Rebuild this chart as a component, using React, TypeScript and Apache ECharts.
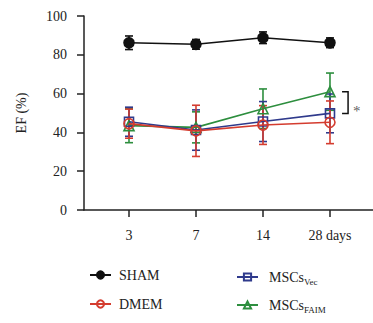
import { useEffect, useRef } from 'react';
import * as echarts from 'echarts';

const days = ['3', '7', '14', '28 days'];
const dayIndex = [0, 1, 2, 3];
const yTicks = [0, 20, 40, 60, 80, 100];
const shamMean = [86.2, 85.4, 88.8, 86.2];
const shamErr = [3.5, 2.5, 3, 2.5];
const dmemMean = [44.5, 40.8, 43.8, 45.2];
const dmemErr = [7.5, 13.2, 10, 11];
const vecMean = [45.5, 41.2, 45.6, 49.8];
const vecErr = [7.5, 10.4, 10.3, 10];
const faimMean = [43.5, 42.6, 52.2, 61];
const faimErr = [8.8, 8, 10.2, 9.6];
const sigLabel = '*';

const FONT = 'Liberation Serif';
const RED = '#d43c2f';
const BLUE = '#2f3a8c';
const GREEN = '#2d8e3e';
const BLACK = '#111111';

function errSeries(name: string, mean: number[], err: number[], color: string, z: number) {
  return {
    type: 'custom',
    name: name + '-err',
    z,
    silent: true,
    itemStyle: { color },
    data: mean.map((m, i) => [dayIndex[i], m, m - err[i], m + err[i]]),
    renderItem: (params: any, api: any) => {
      const x = api.value(0);
      const lo = api.coord([x, api.value(2)]);
      const hi = api.coord([x, api.value(3)]);
      const w = 4;
      const st = { stroke: color, lineWidth: 1.6 };
      return {
        type: 'group',
        children: [
          { type: 'line', shape: { x1: lo[0], y1: lo[1], x2: hi[0], y2: hi[1] }, style: st },
          { type: 'line', shape: { x1: lo[0] - w, y1: lo[1], x2: lo[0] + w, y2: lo[1] }, style: st },
          { type: 'line', shape: { x1: hi[0] - w, y1: hi[1], x2: hi[0] + w, y2: hi[1] }, style: st },
        ],
      };
    },
  };
}

function lineSeries(name: string, mean: number[], color: string, symbol: string, size: number, filled: boolean, z: number) {
  return {
    type: 'line',
    name,
    z,
    data: mean.map((m, i) => [dayIndex[i], m]),
    symbol,
    symbolSize: size,
    showAllSymbol: true,
    lineStyle: { color, width: 1.6 },
    itemStyle: { color: filled ? color : 'rgba(255,255,255,0)', borderColor: color, borderWidth: 1.6 },
    emphasis: { disabled: true },
  };
}

export default function App() {
  const ref = useRef<HTMLDivElement>(null);
  useEffect(() => {
    if (!ref.current) return;
    const chart = echarts.init(ref.current, undefined, { renderer: 'svg' });
    const legendText = { fontFamily: FONT, fontSize: 14, color: '#222', padding: [0, 0, 0, 3] };
    chart.setOption({
      animation: false,
      textStyle: { fontFamily: FONT },
      grid: { left: 84, right: 0, top: 16, bottom: 113, containLabel: false },
      xAxis: {
        type: 'value',
        min: -0.6716,
        max: 3.642,
        splitLine: { show: false },
        axisLine: { show: true, onZero: false, lineStyle: { color: '#222', width: 1.5 } },
        axisTick: { show: true, customValues: dayIndex, length: 7, lineStyle: { color: '#222', width: 1.5 } },
        axisLabel: {
          customValues: dayIndex,
          formatter: (v: number) => days[Math.round(v)] ?? '',
          fontFamily: FONT,
          fontSize: 14,
          color: '#222',
          margin: 18,
        },
      },
      yAxis: {
        type: 'value',
        min: 0,
        max: 100,
        interval: 20,
        name: 'EF (%)',
        nameLocation: 'middle',
        nameGap: 56,
        nameTextStyle: { fontFamily: FONT, fontSize: 14, color: '#222' },
        splitLine: { show: false },
        axisLine: { show: true, onZero: false, lineStyle: { color: '#222', width: 1.5 } },
        axisTick: { show: true, length: 7, lineStyle: { color: '#222', width: 1.5 } },
        axisLabel: {
          fontFamily: FONT,
          fontSize: 14,
          color: '#222',
          margin: 17,
          formatter: (v: number) => (yTicks.includes(v) ? String(v) : ''),
        },
      },
      legend: [
        {
          orient: 'vertical',
          left: 84,
          top: 263,
          itemWidth: 21,
          itemHeight: 9,
          itemGap: 15,
          selectedMode: false,
          data: ['SHAM', 'DMEM'],
          textStyle: legendText,
        },
        {
          orient: 'vertical',
          left: 231,
          top: 265,
          itemWidth: 21,
          itemHeight: 9,
          itemGap: 12,
          selectedMode: false,
          data: ['MSCsVec', 'MSCsFAIM'],
          formatter: (name: string) => (name === 'MSCsVec' ? '{m|MSCs}{s|Vec}' : '{m|MSCs}{s|FAIM}'),
          textStyle: {
            ...legendText,
            rich: {
              m: { fontFamily: FONT, fontSize: 14, color: '#222', padding: [0, 0, 0, 3] },
              s: { fontFamily: FONT, fontSize: 9, color: '#222', padding: [9, 0, 0, 0] },
            },
          },
        },
      ],
      series: [
        errSeries('MSCsFAIM', faimMean, faimErr, GREEN, 1),
        errSeries('MSCsVec', vecMean, vecErr, BLUE, 2),
        errSeries('DMEM', dmemMean, dmemErr, RED, 3),
        errSeries('SHAM', shamMean, shamErr, BLACK, 4),
        lineSeries('MSCsFAIM', faimMean, GREEN, 'triangle', 10, false, 5),
        lineSeries('MSCsVec', vecMean, BLUE, 'rect', 9, false, 6),
        lineSeries('DMEM', dmemMean, RED, 'circle', 10, false, 7),
        lineSeries('SHAM', shamMean, BLACK, 'circle', 10, true, 8),
        {
          type: 'custom',
          name: 'bracket',
          silent: true,
          z: 9,
          itemStyle: { color: BLACK },
          data: [[3.18, faimMean[3], vecMean[3]]],
          renderItem: (params: any, api: any) => {
            const x0 = api.value(0);
            const top = api.coord([x0, api.value(1)]);
            const bot = api.coord([x0, api.value(2)]);
            const right = api.coord([x0 + 0.09, api.value(1)])[0];
            return {
              type: 'polyline',
              shape: { points: [[top[0], top[1]], [right, top[1]], [right, bot[1]], [bot[0], bot[1]]] },
              style: { stroke: BLACK, lineWidth: 1.5, fill: 'none' },
            };
          },
        },
        {
          type: 'scatter',
          name: 'sig',
          silent: true,
          z: 9,
          symbolSize: 0,
          itemStyle: { color: '#333333' },
          data: [[3.4, (faimMean[3] + vecMean[3]) / 2 - 4.5]],
          label: {
            show: true,
            position: 'inside',
            formatter: sigLabel,
            fontFamily: FONT,
            fontSize: 15,
            color: '#333333',
          },
        },
      ],
    });
    return () => chart.dispose();
  }, []);
  return <div ref={ref} style={{ width: 373, height: 323, position: 'absolute', left: 0, top: 0 }} />;
}
